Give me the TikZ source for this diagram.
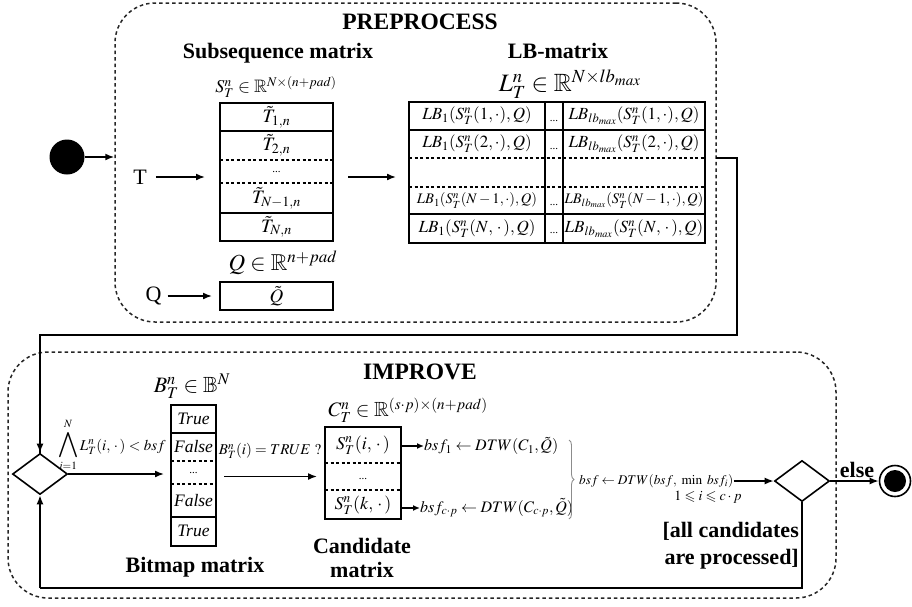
\documentclass[tikz,border=0pt]{standalone}
\usepackage{mathptmx}
\usepackage{amssymb}
\usepackage{fontspec}
\setmainfont{Liberation Serif}
\usetikzlibrary{arrows.meta,shapes.geometric,decorations.pathreplacing}
\newcommand{\fsz}[1]{\fontsize{#1}{#1}\selectfont}
\begin{document}
\begin{tikzpicture}[x=1pt,y=-1pt,
  box/.style={draw, line width=2pt, inner sep=0pt},
  solidrow/.style={line width=1.8pt},
  dashrow/.style={line width=1.2pt, dash pattern=on 3pt off 2.5pt},
  region/.style={draw=black!85, line width=1.5pt, dash pattern=on 3.5pt off 3pt, rounded corners=40pt, inner sep=0pt},
  arr/.style={line width=1.6pt, -{Latex[length=9pt,width=7pt]}},
  conn/.style={line width=1.8pt},
  ttl/.style={font=\fontsize{22}{27}\selectfont\bfseries, inner sep=0pt},
  bigttl/.style={font=\fontsize{23.5}{28}\selectfont\bfseries, inner sep=0pt},
  mth/.style={font=\fsz{18}, inner sep=0pt},
  tcell/.style={font=\fsz{19}, inner sep=0pt},
  cell/.style={font=\fsz{17}, inner sep=0pt},
  smallcell/.style={font=\fsz{14.6}, inner sep=0pt},
  dots/.style={font=\fsz{11}, inner sep=0pt},
  bit/.style={font=\fontsize{17.5}{20}\selectfont\itshape, inner sep=0pt},
  lbl/.style={font=\fsz{22}, inner sep=0pt},
  dia/.style={diamond, draw, line width=1.6pt, inner sep=0pt, minimum width=55pt, minimum height=41pt}
]
\useasboundingbox (0,0) rectangle (912,606);

% ---------------- PREPROCESS region
\node[region, minimum width=601pt, minimum height=319pt] (pre) at (415.5,162.5) {};
\node[bigttl] (pretitle) at (420,22) {PREPROCESS};

\node[circle, fill=black, minimum size=35pt, inner sep=0pt] (start) at (67,157) {};
\draw[arr] (start) -- (start -| pre.west);

% subsequence matrix
\node[ttl] (subtitle) at (278,53) {Subsequence matrix};
\node[mth] (sdef) at (276,87) {$S_T^n \in \mathbb{R}^{N\times(n+pad)}$};
\node[box, minimum width=113pt, minimum height=138pt] (smat) at (276.5,172) {};
\draw[solidrow] (220,131) -- (333,131);
\draw[dashrow] (220,160) -- (333,160);
\draw[dashrow] (220,183) -- (333,183);
\draw[solidrow] (220,213) -- (333,213);
\node[tcell] (s1) at (276.5,117.5) {$\tilde{T}_{1,n}$};
\node[tcell] (s2) at (276.5,145.5) {$\tilde{T}_{2,n}$};
\node[dots] (s3) at (276.5,172) {...};
\node[tcell] (s4) at (276.5,198.5) {$\tilde{T}_{N-1,n}$};
\node[tcell] (s5) at (276.5,227) {$\tilde{T}_{N,n}$};

\node[lbl] (tlab) at (140,177) {T};
\draw[arr, shorten <=9pt, shorten >=14pt] (tlab.east) -- (tlab.east -| smat.west);

\node[font=\fsz{23}, inner sep=0pt] (qdef) at (283,263) {$Q \in \mathbb{R}^{n+pad}$};
\node[box, minimum width=113pt, minimum height=28pt] (qbox) at (276.5,296) {};
\node[tcell] (qt) at (276.5,296.5) {$\tilde{Q}$};
\node[lbl] (qlab) at (153.5,296) {Q};
\draw[arr, shorten <=6pt, shorten >=7pt] (qlab.east) -- (qbox.west);

% LB matrix
\node[ttl] (lbtitle) at (558,51) {LB-matrix};
\node[font=\fsz{25}, inner sep=0pt] (ldef) at (570,84) {$L_T^n \in \mathbb{R}^{N\times lb_{max}}$};
\node[box, minimum width=296pt, minimum height=141pt] (lbm) at (557,172.5) {};
\draw[line width=2pt] (545,102) -- (545,243);
\draw[line width=2pt] (563,102) -- (563,243);
\draw[solidrow] (409,130) -- (705,130);
\draw[dashrow] (409,158) -- (705,158);
\draw[dashrow] (409,187) -- (705,187);
\draw[solidrow] (409,214) -- (705,214);
\node[cell] (l11) at (477,116) {$LB_1(S_T^n(1,\cdot),Q)$};
\node[cell] (l12) at (634,116) {$LB_{lb_{max}}(S_T^n(1,\cdot),Q)$};
\node[cell] (l21) at (477,144) {$LB_1(S_T^n(2,\cdot),Q)$};
\node[cell] (l22) at (634,144) {$LB_{lb_{max}}(S_T^n(2,\cdot),Q)$};
\node[smallcell] (l41) at (477,200.5) {$LB_1(S_T^n(N-1,\cdot),Q)$};
\node[smallcell] (l42) at (634,200.5) {$LB_{lb_{max}}(S_T^n(N-1,\cdot),Q)$};
\node[cell] (l51) at (477,228.5) {$LB_1(S_T^n(N,\,\cdot\,),Q)$};
\node[cell] (l52) at (634,228.5) {$LB_{lb_{max}}(S_T^n(N,\,\cdot\,),Q)$};
\node[dots] (ld1) at (554,121) {...};
\node[dots] (ld2) at (554,149) {...};
\node[dots] (ld4) at (554,205) {...};
\node[dots] (ld5) at (554,233) {...};

\draw[arr, shorten <=14pt, shorten >=12pt] ([yshift=-5pt]smat.east) -- ([yshift=-5pt]smat.east -| lbm.west);

% ---------------- IMPROVE region
\node[region, minimum width=828pt, minimum height=246pt] (imp) at (422,475) {};
\node[bigttl] (imptitle) at (420,372) {IMPROVE};

\node[dia] (d1) at (40,474) {};
\coordinate (lbout) at (716,158);
\draw[conn] (lbout) -| (737,335) -| ([yshift=-1pt]d1.north);
\draw[arr] (d1.north |- 0,440) -- (d1.north);

% bitmap
\node[font=\fsz{22}, inner sep=0pt] (bdef) at (192,386) {$B_T^n \in \mathbb{B}^N$};
\node[box, minimum width=45pt, minimum height=141pt] (bmat) at (193.5,475.5) {};
\draw[solidrow] (171,433) -- (216,433);
\draw[dashrow] (171,461) -- (216,461);
\draw[dashrow] (171,484) -- (216,484);
\draw[solidrow] (171,517) -- (216,517);
\node[bit] (b1) at (193.5,419) {True};
\node[bit] (b2) at (193.5,447) {False};
\node[dots] (b3) at (193.5,473) {...};
\node[bit] (b4) at (193.5,501) {False};
\node[bit] (b5) at (193.5,531) {True};
\node[ttl] (btitle) at (195,567) {Bitmap matrix};

\draw[arr, shorten >=6pt] (d1.east) -- (d1.east -| bmat.west);
\node[font=\fsz{15}, inner sep=0pt] (cond) at (112,445) {$\mathop{\hbox{\fsz{20}$\displaystyle\bigwedge$}}\limits_{i=1}^{N} L_T^n(i,\,\cdot\,) < bsf$};

% candidate
\node[font=\fsz{20.5}, inner sep=0pt] (cdef) at (408,410) {$C_T^n \in \mathbb{R}^{(s\cdot p)\times(n+pad)}$};
\node[box, minimum width=76pt, minimum height=92pt] (cmat) at (363,473) {};
\draw[dashrow] (325,463) -- (401,463);
\draw[dashrow] (325,490) -- (401,490);
\node[font=\fsz{18}, inner sep=0pt] (c1) at (363,445) {$S_T^n(i,\,\cdot\,)$};
\node[dots] (c2) at (363,479) {...};
\node[font=\fsz{18}, inner sep=0pt] (c3) at (363,505) {$S_T^n(k,\,\cdot\,)$};
\node[ttl, align=center, font=\fontsize{22}{24}\selectfont\bfseries] (ctitle) at (362,558) {Candidate\\matrix};

\draw[arr, shorten <=7pt, shorten >=7pt] ([yshift=-1pt]bmat.east) -- ([yshift=-1pt]bmat.east -| cmat.west);
\node[font=\fsz{15}, inner sep=0pt] (bcond) at (270,451) {$B_T^n(i) = TRUE\ ?$};

% DTW
\node[font=\fsz{16}, inner sep=0pt, anchor=west] (dtw1) at (424,446) {$bsf_1 \leftarrow DTW(C_1,\tilde{Q})$};
\node[font=\fsz{16}, inner sep=0pt, anchor=west] (dtw2) at (420,508) {$bsf_{c\cdot p} \leftarrow DTW(C_{c\cdot p},\tilde{Q})$};
\draw[line width=1.5pt, -{Latex[length=7pt,width=6pt]}] (cmat.east |- dtw1) -- (dtw1.west);
\draw[line width=1.5pt, -{Latex[length=7pt,width=6pt]}] (cmat.east |- dtw2) -- (dtw2.west);
\draw[black!45, line width=0.9pt, decorate, decoration={brace, amplitude=5pt}] (569,440) -- (569,519);

\node[font=\fsz{13.3}, inner sep=0pt, anchor=west] (res) at (579,481) {$bsf \leftarrow DTW(bsf,\ \min\ bsf_i)$};
\node[font=\fsz{14}, inner sep=0pt] (rsub) at (708,497) {$1\leqslant i\leqslant c\cdot p$};

\node[dia] (d2) at (802,481) {};
\draw[arr] (res.east) -- (d2.west);

\node[ttl] (else) at (857,470) {else};
\node[circle, draw, line width=1.6pt, minimum size=31pt, inner sep=0pt] (endc) at (895,481) {};
\node[circle, fill=black, minimum size=22pt, inner sep=0pt] (endi) at (895,481) {};
\draw[arr] (d2.east) -- (endc.west);

\node[ttl, align=right, anchor=east, font=\fontsize{22}{27}\selectfont\bfseries] (proc) at (799,546) {[all candidates\\are processed]};

\coordinate (loop) at (40,588);
\draw[conn] (d2.south) |- (loop);
\draw[arr] (loop) -- (d1.south);
\end{tikzpicture}
\end{document}
